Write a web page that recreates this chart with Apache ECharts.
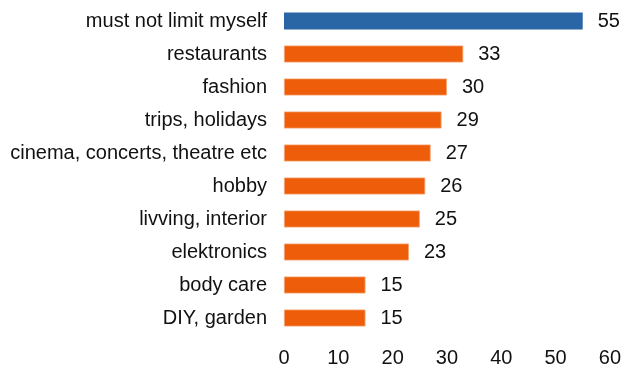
<!DOCTYPE html>
<html>
<head>
<meta charset="utf-8">
<script src="https://cdn.jsdelivr.net/npm/echarts@6/dist/echarts.min.js"></script>
<style>
  html, body { margin: 0; padding: 0; background: #ffffff; }
  #chart { width: 624px; height: 372px; }
</style>
</head>
<body>
<div id="chart"></div>
<script>
// Spending categories, listed top to bottom
const categories = [
  'must not limit myself',
  'restaurants',
  'fashion',
  'trips, holidays',
  'cinema, concerts, theatre etc',
  'hobby',
  'livving, interior',
  'elektronics',
  'body care',
  'DIY, garden'
];
const values = [55, 33, 30, 29, 27, 26, 25, 23, 15, 15];
const xTicks = [0, 10, 20, 30, 40, 50, 60];

const BLUE = '#2a66a5';
const ORANGE = '#ee5e0a';

const chart = echarts.init(document.getElementById('chart'));
const font = 'Liberation Sans, Arial, sans-serif';

chart.setOption({
  animation: false,
  backgroundColor: '#ffffff',
  grid: { left: 284, right: 12, top: 4.5, bottom: 37.5, containLabel: false },
  xAxis: {
    type: 'value',
    min: xTicks[0],
    max: xTicks[xTicks.length - 1],
    interval: 10,
    axisLine: { show: false },
    axisTick: { show: false },
    splitLine: { show: false },
    axisLabel: { color: '#111111', fontSize: 20, fontFamily: font, margin: 14 }
  },
  yAxis: {
    type: 'category',
    inverse: true,
    data: categories,
    axisLine: { show: false },
    axisTick: { show: false },
    axisLabel: { color: '#111111', fontSize: 20, fontFamily: font, margin: 17 }
  },
  series: [{
    type: 'bar',
    barWidth: 17,
    data: values.map((v, i) => ({
      value: v,
      itemStyle: i === 0
        ? { color: BLUE }
        : { color: ORANGE, borderColor: '#f6a171', borderWidth: 0.8 }
    })),
    label: {
      show: true,
      position: 'right',
      distance: 15,
      color: '#111111',
      fontSize: 20,
      fontFamily: font
    }
  }]
});
</script>
</body>
</html>
